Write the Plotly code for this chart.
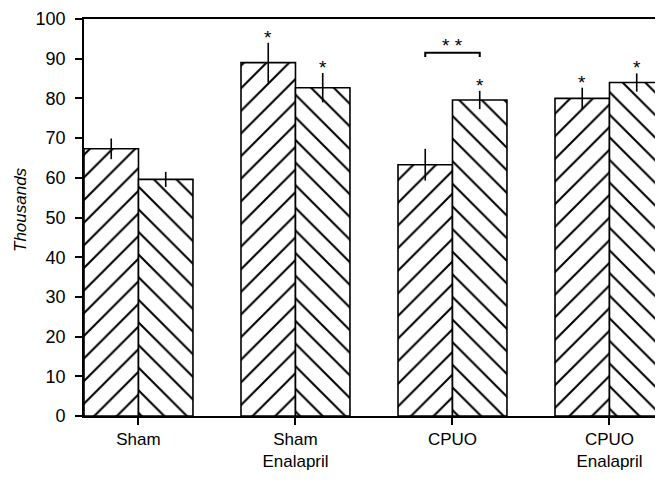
import plotly.graph_objects as go

categories = ["Sham", "Sham<br>Enalapril", "CPUO", "CPUO<br>Enalapril"]
series_a = [67.3, 89.0, 63.3, 80.0]
series_b = [59.6, 82.7, 79.6, 84.0]
err_a = [2.6, 5.0, 4.0, 2.7]
err_b = [1.9, 3.7, 2.3, 2.3]
star_a = [False, True, False, True]
star_b = [False, True, True, True]
bracket_group = 2
bracket_level = 91.5
y_ticks = [0, 10, 20, 30, 40, 50, 60, 70, 80, 90, 100]

BARGAP = 0.306
half = (1 - BARGAP) / 2
xs = list(range(len(categories)))
FONT = "Liberation Sans, Arial, sans-serif"

# page has an 8px body margin; plot area spans page x 84..663, y 19..416
PL, PR, PT, PB = 84, 663, 19, 416

fig = go.Figure()
for vals, errs, shape in [(series_a, err_a, "/"), (series_b, err_b, "\\")]:
    fig.add_trace(go.Bar(
        x=xs, y=vals,
        marker=dict(color="white", line=dict(color="black", width=1.6),
                    pattern=dict(shape=shape, fgcolor="black", bgcolor="white",
                                 size=16, solidity=0.13, fgopacity=1)),
        error_y=dict(type="data", array=errs, visible=True, width=0,
                     thickness=1.6, color="black"),
        showlegend=False,
    ))

annotations = []
for i in xs:
    for vals, errs, stars, sign in [(series_a, err_a, star_a, -1), (series_b, err_b, star_b, 1)]:
        if stars[i]:
            annotations.append(dict(x=i + sign * half / 2, y=vals[i] + errs[i],
                                    text="*", showarrow=False, yanchor="bottom",
                                    yshift=-7, font=dict(size=19, family=FONT, color="black")))

xl = bracket_group - half / 2
xr = bracket_group + half / 2
fig.add_trace(go.Scatter(x=[xl, xl, xr, xr],
                         y=[bracket_level - 1.1, bracket_level, bracket_level, bracket_level - 1.1],
                         mode="lines", line=dict(color="black", width=2),
                         showlegend=False, hoverinfo="skip"))
annotations.append(dict(x=bracket_group, y=bracket_level, text="* *", showarrow=False,
                        yanchor="bottom", yshift=-5,
                        font=dict(size=19, family=FONT, color="black")))
annotations.append(dict(x=(21 - PL) / (PR - PL), y=(PB - 210) / (PB - PT),
                        xref="paper", yref="paper", text="<i>Thousands</i>",
                        showarrow=False, textangle=-90, xanchor="center", yanchor="middle",
                        font=dict(size=17, family=FONT, color="black")))

fig.update_layout(
    width=663 - 8, height=481 - 8,
    margin=dict(l=PL - 8, r=0, t=PT - 8, b=481 - PB, autoexpand=False),
    plot_bgcolor="white", paper_bgcolor="white",
    barmode="group", bargap=BARGAP, bargroupgap=0,
    font=dict(family=FONT, size=17, color="black"),
    annotations=annotations,
    xaxis=dict(range=[-half, -half + (PR - PL) / 157], tickvals=xs, ticktext=categories,
               showline=True, linecolor="black", linewidth=1.6, mirror=True,
               ticks="outside", ticklen=7, tickwidth=1.5, tickcolor="black",
               showgrid=False, zeroline=False, tickfont=dict(size=17),
               automargin=False),
    yaxis=dict(range=[0, 100], tickvals=y_ticks, showline=True, linecolor="black",
               linewidth=1.6, ticks="outside", ticklen=7, tickwidth=1.5,
               tickcolor="black", showgrid=False, zeroline=False,
               tickfont=dict(size=18), ticklabelstandoff=6, automargin=False),
)

fig.write_html("out.html")
